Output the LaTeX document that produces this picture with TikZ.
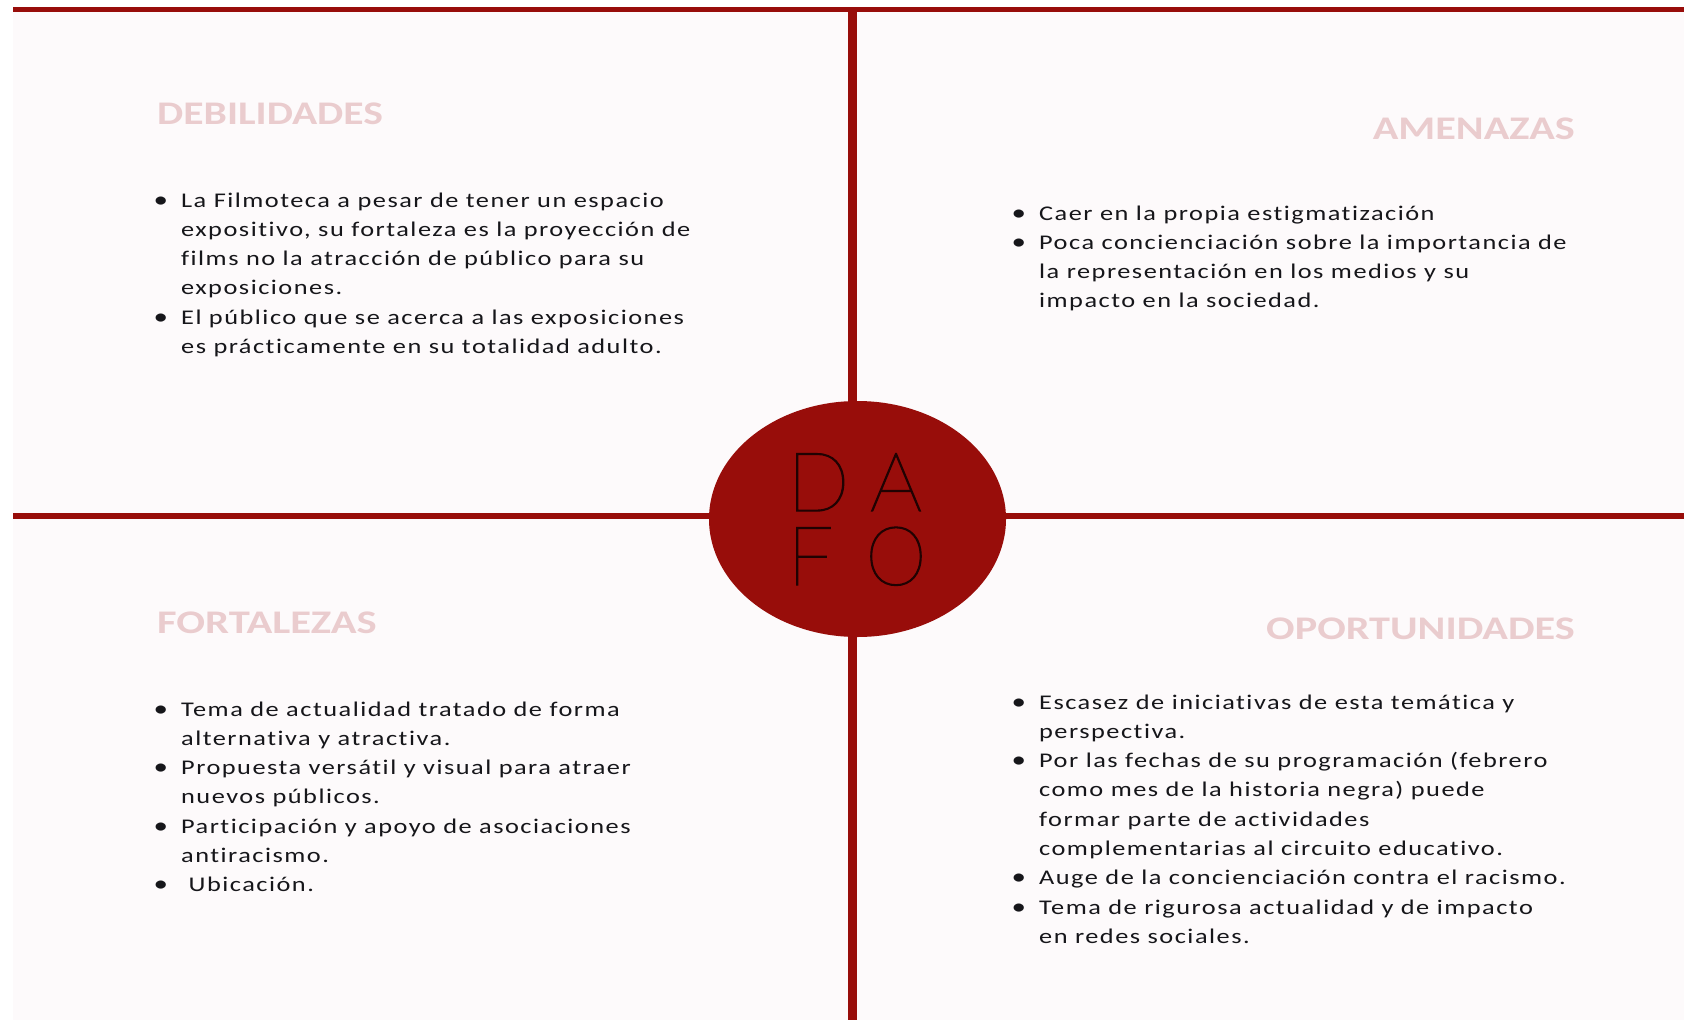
\documentclass[tikz,border=0pt]{standalone}
\usepackage{fontspec}
\usetikzlibrary{shapes.geometric}
\setmainfont{Carlito}
\newfontfamily\bodyfont{Carlito}[LetterSpace=5.7,Ligatures={NoCommon,NoRare,NoContextual}]
\IfFontExistsTF{Lato Thin}{\newfontfamily\dafofont{Lato Thin}[FakeBold=1.5]}{\newfontfamily\dafofont{Lato Light}}
\definecolor{dred}{RGB}{152,13,10}
\definecolor{hpink}{RGB}{234,204,206}
\definecolor{bgpink}{RGB}{253,250,251}
\definecolor{txt}{RGB}{22,22,26}
\definecolor{dafotxt}{RGB}{32,2,2}
\newcommand{\hsc}{1.26}
\newcommand{\bi}{\makebox[19.8pt][l]{\hspace*{-2pt}{\fontsize{23}{23}\selectfont\textbullet}}&}
\newcommand{\ci}{&}
\newcommand{\qlist}[1]{\scalebox{\hsc}[1]{\begin{tabular}[t]{@{}l@{}l@{}}#1\end{tabular}}}
\begin{document}
\begin{tikzpicture}[x=1pt,y=-1pt,
  redline/.style={draw=dred,line width=#1pt},
  listbox/.style={anchor=base west,inner sep=0pt,text=txt,font=\bodyfont\fontsize{20.9}{29.3}\selectfont},
  headbox/.style={inner sep=0pt,text=hpink,font=\bfseries\fontsize{33}{40}\selectfont},
  dafoletter/.style={inner sep=0pt,text=dafotxt,font=\dafofont\fontsize{82}{90}\selectfont}]
\useasboundingbox (0,0) rectangle (1684,1020);
\fill[white] (0,0) rectangle (1684,1020);
\fill[bgpink] (13,12) rectangle (1684,1020);
% frame lines
\coordinate (tl) at (13,9.5);
\coordinate (tr) at (1684,9.5);
\coordinate (vt) at (852,9.5);
\coordinate (vb) at (852,1020);
\coordinate (ml) at (13,516);
\coordinate (mr) at (1684,516);
\draw[redline=5] (tl) -- (tr);
\draw[redline=9] (vt) -- (vb);
\draw[redline=6] (ml) -- (mr);
% centre ellipse
\node[ellipse,fill=dred,minimum width=297pt,minimum height=236pt,inner sep=0pt] (dafo) at (857.5,519) {};
\node[dafoletter,anchor=base west] (lD) at (787,511) {D};
\node[dafoletter,anchor=base] (lA) at (896,511) {A};
\node[dafoletter,anchor=base west] (lF) at (787,585) {F};
\node[dafoletter,anchor=base] (lO) at (896,585) {\scalebox{0.95}[1]{O}};
% headings
\node[headbox,anchor=base west] (deb) at (157,124) {\scalebox{\hsc}[1]{DEBILIDADES}};
\node[headbox,anchor=base east] (ame) at (1575,139.5) {\scalebox{1.28}[1]{AMENAZAS}};
\node[headbox,anchor=base west] (fort) at (157,633) {\scalebox{1.29}[1]{FORTALEZAS}};
\node[headbox,anchor=base east] (opo) at (1575,639) {\scalebox{1.28}[1]{OPORTUNIDADES}};
% lists
\node[listbox] (ul) at (156,207) {\qlist{%
\bi La Filmoteca a pesar de tener un espacio\\
\ci expositivo, su fortaleza es la proyección de\\
\ci films no la atracción de público para su\\
\ci exposiciones.\\
\bi El público que se acerca a las exposiciones\\
\ci es prácticamente en su totalidad adulto.}};
\node[listbox] (ur) at (1014,220) {\qlist{%
\bi Caer en la propia estigmatización\\
\bi Poca concienciación sobre la importancia de\\
\ci la representación en los medios y su\\
\ci impacto en la sociedad.}};
\node[listbox] (ll) at (156,716) {\qlist{%
\bi Tema de actualidad tratado de forma\\
\ci alternativa y atractiva.\\
\bi Propuesta versátil y visual para atraer\\
\ci nuevos públicos.\\
\bi Participación y apoyo de asociaciones\\
\ci antiracismo.\\
\bi \ Ubicación.}};
\node[listbox] (lr) at (1014,709) {\qlist{%
\bi Escasez de iniciativas de esta temática y\\
\ci perspectiva.\\
\bi Por las fechas de su programación (febrero\\
\ci como mes de la historia negra) puede\\
\ci formar parte de actividades\\
\ci complementarias al circuito educativo.\\
\bi Auge de la concienciación contra el racismo.\\
\bi Tema de rigurosa actualidad y de impacto\\
\ci en redes sociales.}};
\end{tikzpicture}
\end{document}
